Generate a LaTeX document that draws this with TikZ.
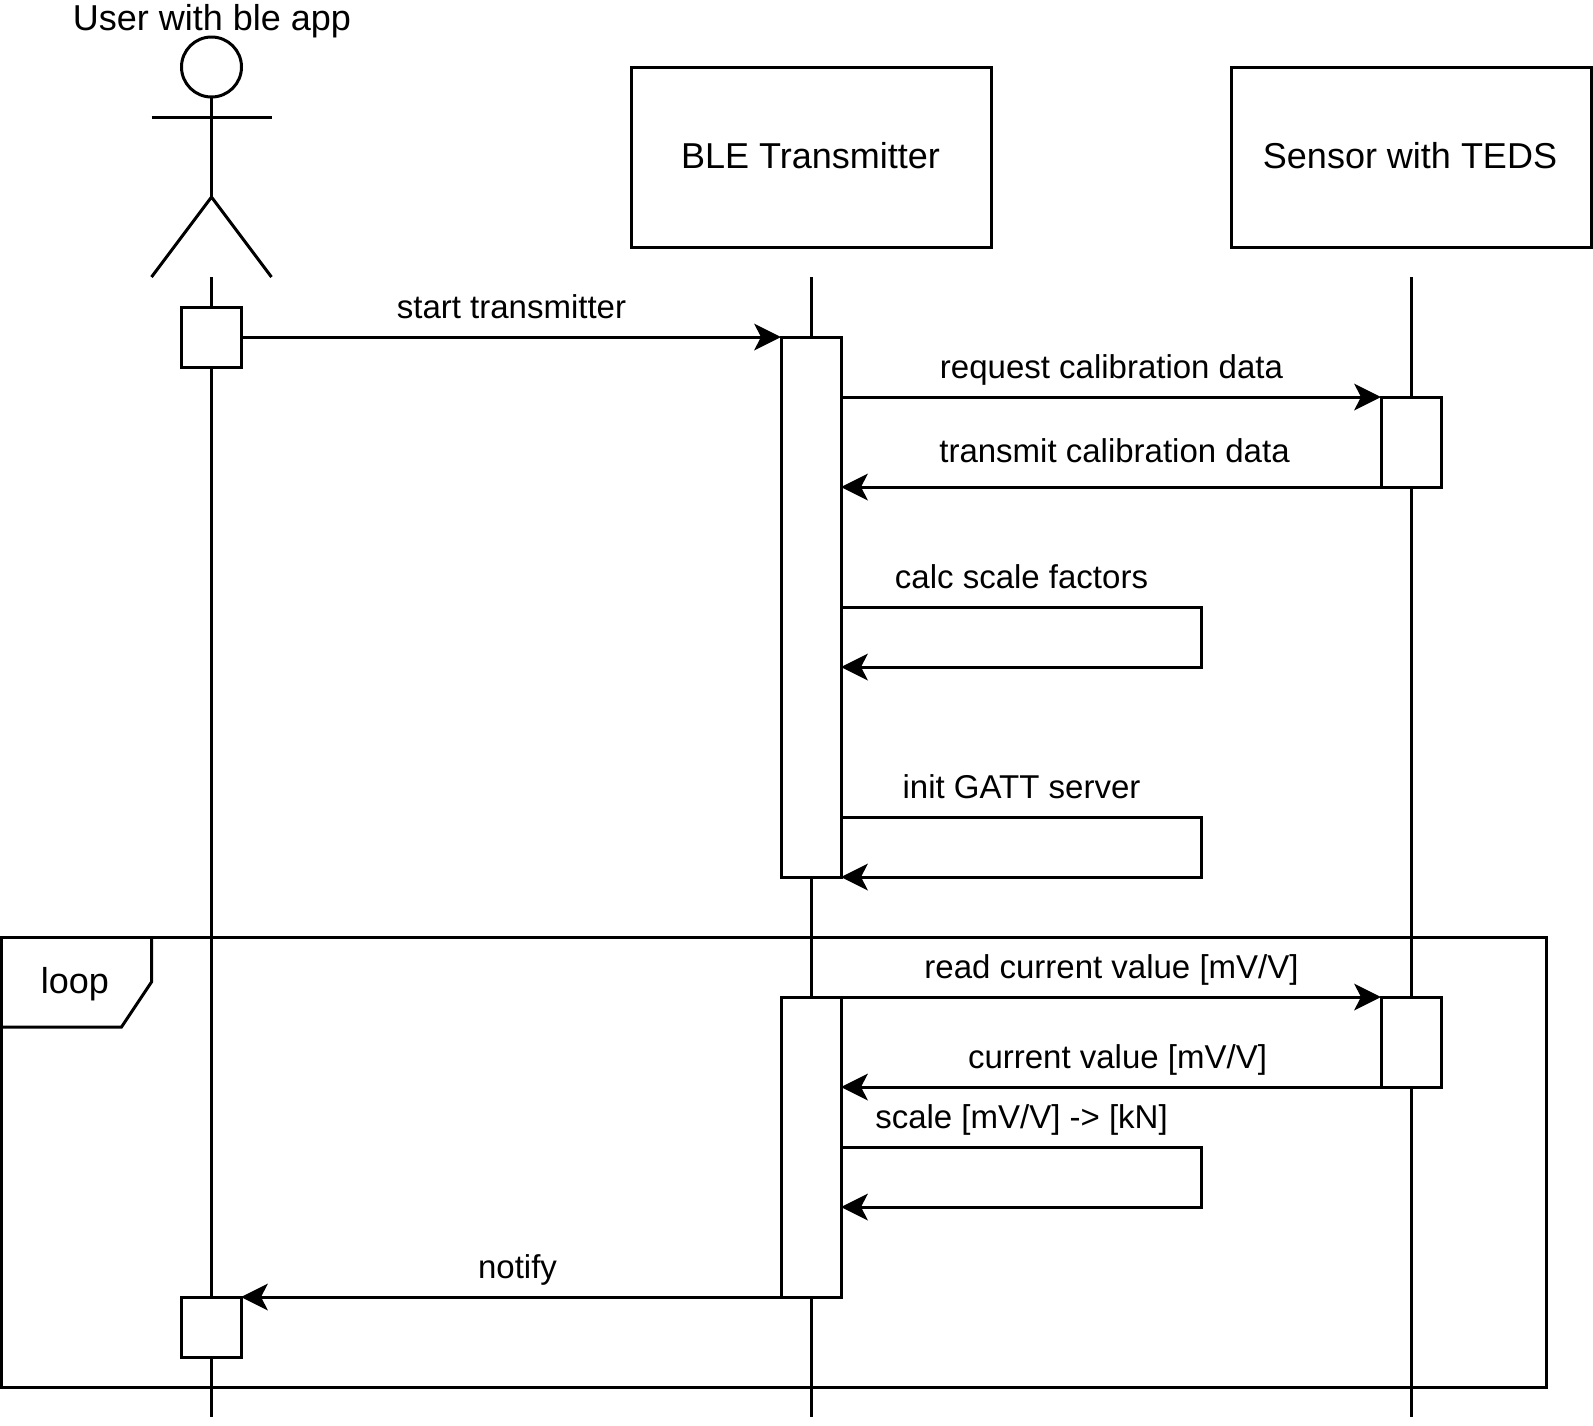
\documentclass[tikz,border=0pt]{standalone}
\usepackage{fontspec}
\setmainfont{Liberation Sans}
\usetikzlibrary{arrows.meta}
\tikzset{
  x=1pt,y=-1pt,
  every path/.style={line width=3pt,line join=miter},
  sd/.style={draw=black,fill=white,rectangle,inner sep=0pt,outer sep=0pt,line width=3pt},
  act/.style={sd,minimum width=60pt},
  msg/.style={-{Stealth[length=27pt,width=27pt,inset=7pt,line width=0pt]}},
  txt/.style={anchor=base,inner sep=0pt,outer sep=0pt,font=\fontsize{36pt}{42pt}\selectfont},
  msgtxt/.style={txt,font=\fontsize{33pt}{39pt}\selectfont},
  lifeline/.style={line width=3pt}
}
\begin{document}
\begin{tikzpicture}
\useasboundingbox (0,0) rectangle (1593,1425);
\coordinate (lu1) at (211,277); \coordinate (ld1) at (211,1417);
\coordinate (lu2) at (811,277);   \coordinate (ld2) at (811,1417);
\coordinate (lu3) at (1411,277);  \coordinate (ld3) at (1411,1417);
\draw[lifeline] (lu1) -- (ld1);
\draw[lifeline] (lu2) -- (ld2);
\draw[lifeline] (lu3) -- (ld3);
% actor
\node[draw=black,circle,inner sep=0pt,outer sep=0pt,minimum size=60pt,line width=3pt] (head) at (211.5,67) {};
\coordinate (armL) at (151.5,117); \coordinate (armR) at (271.5,117);
\coordinate (hip) at (211.5,197);
\coordinate (legL) at (151.5,277); \coordinate (legR) at (271.5,277);
\draw (head.south) -- (hip);
\draw (armL) -- (armR);
\draw (legL) -- (hip) -- (legR);
\node[txt] (tuser) at (212,30) {User with ble app};
% participants
\node[sd,minimum width=360pt,minimum height=180pt] (ble) at (811,157) {};
\node[sd,minimum width=360pt,minimum height=180pt] (sens) at (1411,157) {};
\node[txt] (tble) at (810.5,168) {BLE Transmitter};
\node[txt] (tsens) at (1410,168) {Sensor with TEDS};
% activations
\node[act,minimum height=60pt] (a1) at (211,337) {};
\node[act,minimum height=540pt] (b1) at (811,607) {};
\node[act,minimum height=90pt] (c1) at (1411,442) {};
\node[act,minimum height=300pt] (b2) at (811,1147) {};
\node[act,minimum height=90pt] (c2) at (1411,1042) {};
\node[act,minimum height=60pt] (a2) at (211,1327) {};
% loop frame
\coordinate (fTL) at (1.5,937); \coordinate (fBR) at (1546.5,1387);
\draw (fTL) rectangle (fBR);
\coordinate (tabA) at (151.5,937); \coordinate (tabB) at (151.5,982);
\coordinate (tabC) at (121.5,1027); \coordinate (tabD) at (1.5,1027);
\draw (tabA) -- (tabB) -- (tabC) -- (tabD);
\node[txt] (tloop) at (75,993) {loop};
% messages
\coordinate (m1) at (b1.north west);
\draw[msg] (a1.east) -- (m1);
\node[msgtxt] (t1) at (511.5,318) {start transmitter};
\coordinate (m2) at (c1.north west);
\draw[msg] (b1.east |- m2) -- (m2);
\node[msgtxt] (t2) at (1111.5,378) {request calibration data};
\coordinate (m3) at (c1.south west);
\draw[msg] (m3) -- (b1.east |- m3);
\node[msgtxt] (t3) at (1114.5,462) {transmit calibration data};
\coordinate (s1a) at (1201.5,607); \coordinate (s1b) at (1201.5,667);
\draw[msg] (b1.east |- s1a) -- (s1a) -- (s1b) -- (b1.east |- s1b);
\node[msgtxt] (t4) at (1021.5,588) {calc scale factors};
\coordinate (s2a) at (1201.5,817); \coordinate (s2b) at (1201.5,877);
\draw[msg] (b1.east |- s2a) -- (s2a) -- (s2b) -- (b1.south east);
\node[msgtxt] (t5) at (1021.5,798) {init GATT server};
\coordinate (m4) at (c2.north west);
\draw[msg] (b2.north east) -- (m4);
\node[msgtxt] (t6) at (1111.5,978) {read current value [mV/V]};
\coordinate (m5) at (c2.south west);
\draw[msg] (m5) -- (b2.east |- m5);
\node[msgtxt] (t7) at (1117.5,1068) {current value [mV/V]};
\coordinate (s3a) at (1201.5,1147); \coordinate (s3b) at (1201.5,1207);
\draw[msg] (b2.east |- s3a) -- (s3a) -- (s3b) -- (b2.east |- s3b);
\node[msgtxt] (t8) at (1021.5,1128) {scale [mV/V] -> [kN]};
\draw[msg] (b2.south west) -- (a2.north east);
\node[msgtxt] (t9) at (517.5,1278) {notify};
\end{tikzpicture}
\end{document}
